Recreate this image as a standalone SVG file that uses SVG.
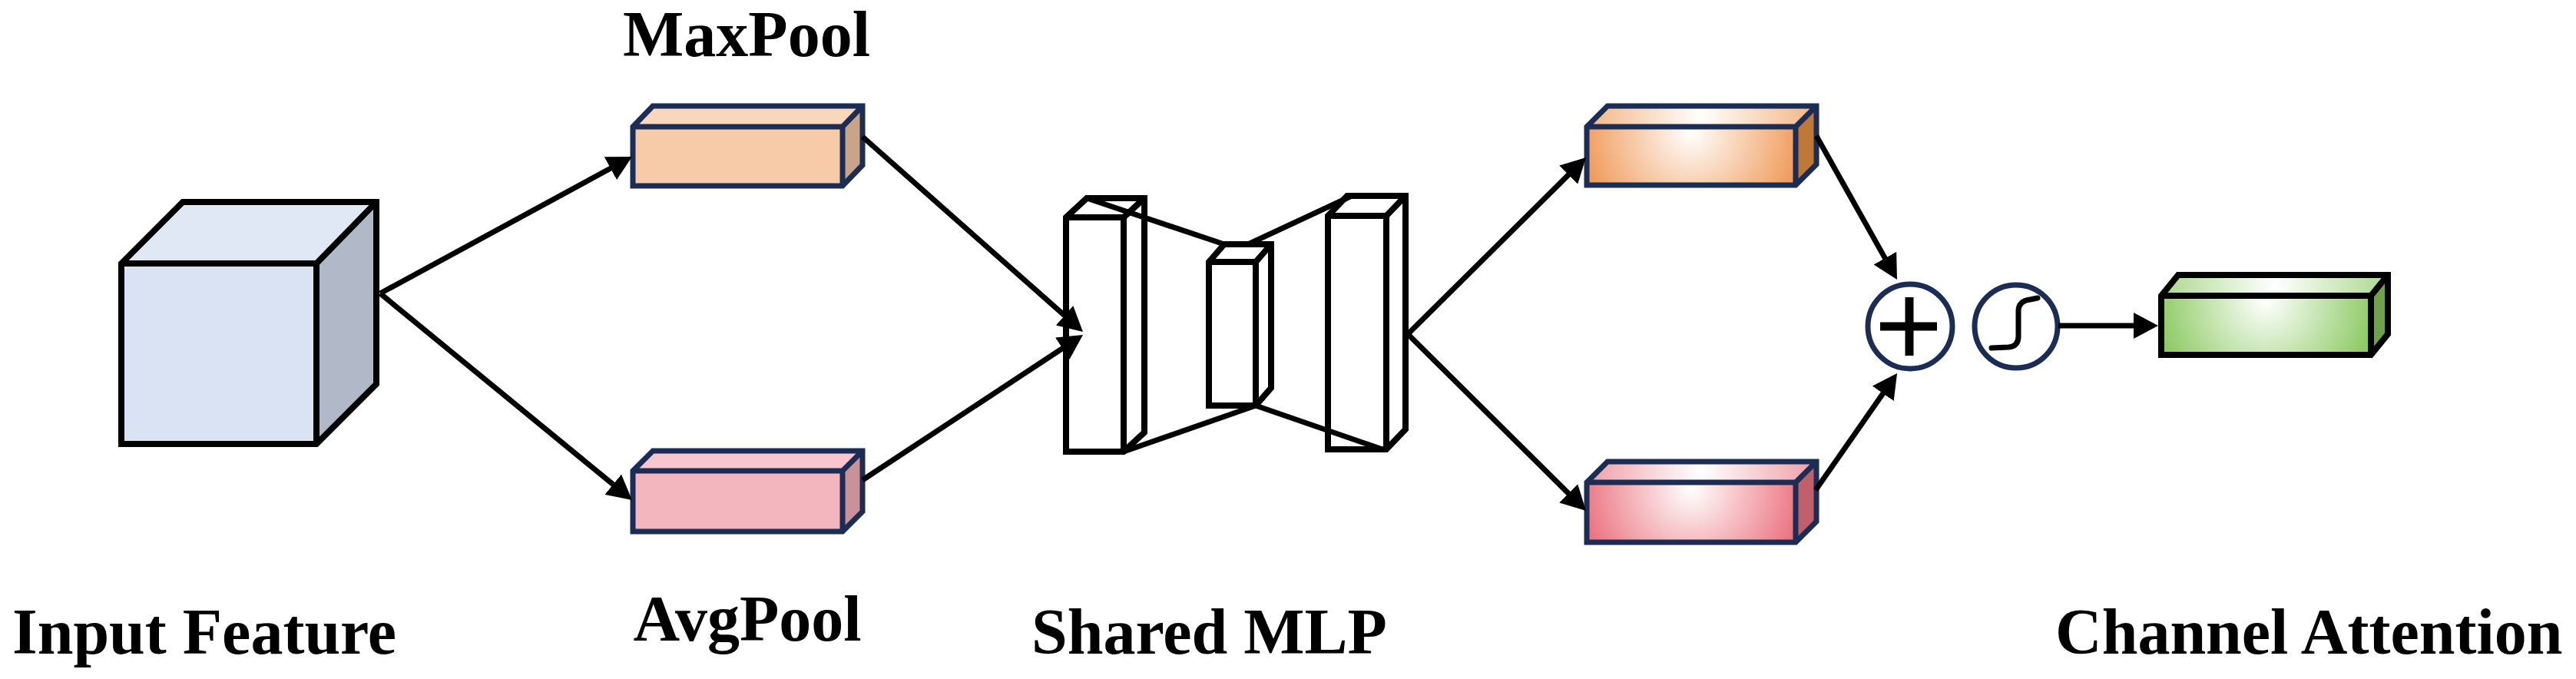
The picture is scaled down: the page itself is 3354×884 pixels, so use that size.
<svg xmlns="http://www.w3.org/2000/svg" width="3354" height="884" viewBox="0 0 3354 884">
<defs>
<style>
.lbl{font-family:"Liberation Serif","Times New Roman",serif;font-weight:bold;font-size:84px;fill:#000}
.blk{fill:none;stroke:#000;stroke-width:8;stroke-linejoin:miter}
.navy{fill:none;stroke:#1B2D55;stroke-width:7;stroke-linejoin:miter}
.wire{stroke:#000;stroke-width:7;fill:none}
.arrow{stroke:#000;stroke-width:7;fill:none;marker-end:url(#ah)}
.ring{fill:#fff;stroke:#1B2D55;stroke-width:7}
</style>
<marker id="ah" viewBox="0 0 32 34" refX="12" refY="17" markerWidth="32" markerHeight="34" markerUnits="userSpaceOnUse" orient="auto">
<path d="M0,0 L32,17 L0,34 Z" fill="#000"/>
</marker>
<radialGradient id="gOrF" gradientUnits="userSpaceOnUse" cx="2202" cy="172" r="165"><stop offset="0" stop-color="#fff"/><stop offset="1" stop-color="#EE8C42"/></radialGradient>
<radialGradient id="gOrT" gradientUnits="userSpaceOnUse" cx="2215" cy="150" r="160"><stop offset="0" stop-color="#fff"/><stop offset="1" stop-color="#F2AF7C"/></radialGradient>
<radialGradient id="gPkF" gradientUnits="userSpaceOnUse" cx="2202" cy="636" r="165"><stop offset="0" stop-color="#fff"/><stop offset="1" stop-color="#E8606E"/></radialGradient>
<radialGradient id="gPkT" gradientUnits="userSpaceOnUse" cx="2215" cy="614" r="160"><stop offset="0" stop-color="#fff"/><stop offset="1" stop-color="#EE97A1"/></radialGradient>
<radialGradient id="gGrF" gradientUnits="userSpaceOnUse" cx="2950" cy="392" r="165"><stop offset="0" stop-color="#fff"/><stop offset="1" stop-color="#7CC24C"/></radialGradient>
<radialGradient id="gGrT" gradientUnits="userSpaceOnUse" cx="2962" cy="371" r="160"><stop offset="0" stop-color="#fff"/><stop offset="1" stop-color="#A6D486"/></radialGradient>
</defs>
<rect width="3354" height="884" fill="#fff"/>

<g id="input-feature">
<rect x="158" y="343" width="254" height="235" fill="#DAE3F3"/>
<polygon points="158,343 238,263 490,263 412,343" fill="#E1E8F5"/>
<polygon points="412,343 490,263 490,500 412,578" fill="#B1B9C9"/>
<path class="blk" d="M158,343 L238,263 L490,263 L490,500 L412,578 L158,578 Z M158,343 L412,343 L490,263 M412,343 L412,578"/>
</g>

<g id="maxpool">
<rect x="824" y="165" width="273" height="77" fill="#F7CBA8"/>
<polygon points="824,165 850,138 1123,138 1097,165" fill="#F8D7BC"/>
<polygon points="1097,165 1123,138 1123,215 1097,242" fill="#C9A489"/>
<path class="navy" d="M824,165 L850,138 L1123,138 L1123,215 L1097,242 L824,242 Z M824,165 L1097,165 L1123,138 M1097,165 L1097,242"/>
</g>

<g id="avgpool">
<rect x="824" y="613" width="273" height="79" fill="#F3B5BE"/>
<polygon points="824,613 850,587 1123,587 1097,613" fill="#F7C6CE"/>
<polygon points="1097,613 1123,587 1123,666 1097,692" fill="#C99198"/>
<path class="navy" d="M824,613 L850,587 L1123,587 L1123,666 L1097,692 L824,692 Z M824,613 L1097,613 L1123,587 M1097,613 L1097,692"/>
</g>

<g id="shared-mlp">
<path fill="#fff" class="blk" d="M1388,283 L1415,258 L1490,258 L1490,563 L1463,588 L1388,588 Z M1388,283 L1463,283 L1490,258 M1463,283 L1463,588"/>
<path fill="#fff" class="blk" d="M1574,341 L1594,318 L1655,318 L1655,505 L1635,528 L1574,528 Z M1574,341 L1635,341 L1655,318 M1635,341 L1635,528"/>
<path fill="#fff" class="blk" d="M1729,281 L1754,255 L1830,255 L1830,559 L1805,585 L1729,585 Z M1729,281 L1805,281 L1830,255 M1805,281 L1805,585"/>
<line x1="1415" y1="258" x2="1594" y2="318" class="wire"/>
<line x1="1463" y1="588" x2="1635" y2="528" class="wire"/>
<line x1="1625" y1="318" x2="1760" y2="255" class="wire"/>
<line x1="1632" y1="527" x2="1800" y2="585" class="wire"/>
</g>

<g id="mlp-out-max">
<rect x="2066" y="165" width="272" height="76" fill="url(#gOrF)"/>
<polygon points="2066,165 2093,138 2365,138 2338,165" fill="url(#gOrT)"/>
<polygon points="2338,165 2365,138 2365,214 2338,241" fill="#C07838"/>
<path class="navy" d="M2066,165 L2093,138 L2365,138 L2365,214 L2338,241 L2066,241 Z M2066,165 L2338,165 L2365,138 M2338,165 L2338,241"/>
</g>

<g id="mlp-out-avg">
<rect x="2066" y="628" width="272" height="78" fill="url(#gPkF)"/>
<polygon points="2066,628 2093,601 2365,601 2338,628" fill="url(#gPkT)"/>
<polygon points="2338,628 2365,601 2365,679 2338,706" fill="#C0606A"/>
<path class="navy" d="M2066,628 L2093,601 L2365,601 L2365,679 L2338,706 L2066,706 Z M2066,628 L2338,628 L2365,601 M2338,628 L2338,706"/>
</g>

<g id="add">
<circle cx="2487" cy="425" r="55" class="ring"/>
<line x1="2448" y1="425" x2="2522" y2="425" stroke="#000" stroke-width="11"/>
<line x1="2486" y1="387" x2="2486" y2="463" stroke="#000" stroke-width="11"/>
</g>

<g id="sigmoid">
<circle cx="2625" cy="425" r="54" class="ring"/>
<path d="M2593,453 L2615,452 Q2628,451 2628,438 L2628,405 Q2628,392 2643,390 L2653,388" fill="none" stroke="#000" stroke-width="7" stroke-linecap="round" stroke-linejoin="round"/>
</g>

<g id="channel-attention">
<rect x="2814" y="385" width="273" height="77" fill="url(#gGrF)"/>
<polygon points="2814,385 2836,358 3109,358 3087,385" fill="url(#gGrT)"/>
<polygon points="3087,385 3109,358 3109,435 3087,462" fill="#6FA04A"/>
<path class="blk" d="M2814,385 L2836,358 L3109,358 L3109,435 L3087,462 L2814,462 Z M2814,385 L3087,385 L3109,358 M3087,385 L3087,462"/>
</g>

<g id="connectors">
<line x1="495" y1="382" x2="805.4" y2="213.5" class="arrow"/>
<line x1="495" y1="382" x2="807.5" y2="638.3" class="arrow"/>
<line x1="1123" y1="178" x2="1395" y2="418.7" class="arrow"/>
<line x1="1123" y1="625" x2="1393.3" y2="447" class="arrow"/>
<line x1="1833" y1="435" x2="2050.8" y2="219.1" class="arrow"/>
<line x1="1833" y1="435" x2="2050.8" y2="650.9" class="arrow"/>
<line x1="2365" y1="177" x2="2460.2" y2="346.6" class="arrow"/>
<line x1="2364" y1="638" x2="2458.6" y2="502.4" class="arrow"/>
<line x1="2680" y1="424" x2="2790" y2="424" class="arrow"/>
</g>

<g id="labels">
<text x="972" y="73" text-anchor="middle" class="lbl">MaxPool</text>
<text x="973" y="834" text-anchor="middle" class="lbl">AvgPool</text>
<text x="16" y="851" class="lbl">Input Feature</text>
<text x="1343" y="851" class="lbl">Shared MLP</text>
<text x="2676" y="851" class="lbl">Channel Attention</text>
</g>
</svg>
